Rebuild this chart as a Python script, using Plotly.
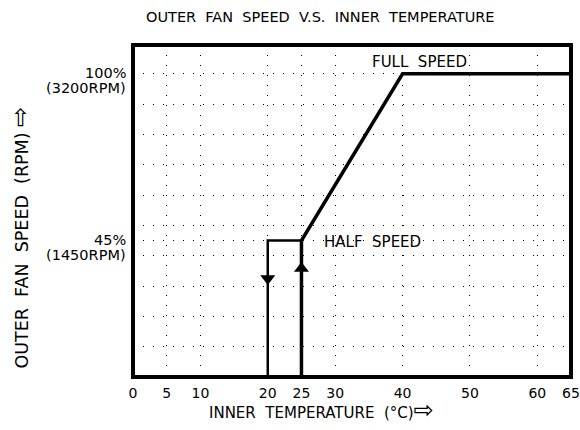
import plotly.graph_objects as go

# fan curve (rising temperature) and the hysteresis return path
temp_rise = [25, 25, 40, 65]
speed_rise = [0, 45, 100, 100]
temp_fall = [25, 20, 20]
speed_fall = [45, 45, 0]

# direction arrows on the vertical legs
arrow_temp = [25, 20]
arrow_speed = [35.8, 32.5]
arrow_symbol = ["triangle-up", "triangle-down"]

x_ticks = [0, 5, 10, 20, 25, 30, 40, 50, 60, 65]
y_grid = [10, 20, 30, 40, 45, 50, 60, 70, 80, 90, 100]

speed_levels = [100, 45]
speed_pct = ["100%", "45%"]
speed_rpm = ["(3200RPM)", "(1450RPM)"]

FONT = "DejaVu Sans"
NB = "\u00a0"
ARROW = '<span style="font-size:24px">⇨</span>'

fig = go.Figure()

fig.add_trace(go.Scatter(
    x=temp_fall, y=speed_fall, mode="lines",
    line=dict(color="black", width=2.5), hoverinfo="skip"
))
fig.add_trace(go.Scatter(
    x=temp_rise, y=speed_rise, mode="lines",
    line=dict(color="black", width=3.5), hoverinfo="skip"
))
fig.add_trace(go.Scatter(
    x=arrow_temp, y=arrow_speed, mode="markers",
    marker=dict(symbol=arrow_symbol, size=13, color="black", line=dict(width=0)),
    hoverinfo="skip"
))

annotations = [
    dict(text=f"FULL{NB}{NB}SPEED", x=42.5, y=103.8, xref="x", yref="y",
         showarrow=False, font=dict(size=15)),
    dict(text=f"HALF{NB}{NB}SPEED", x=28.0, y=44.6, xref="x", yref="y",
         xanchor="left", showarrow=False, font=dict(size=15)),
    dict(text=f"OUTER{NB}{NB}FAN{NB}{NB}SPEED{NB}{NB}V.S.{NB}{NB}INNER{NB}{NB}TEMPERATURE",
         x=0.428, y=1.0, xref="paper", yref="paper", yanchor="middle", yshift=28,
         showarrow=False, font=dict(size=14.5)),
    dict(text=f"INNER{NB}{NB}TEMPERATURE{NB}{NB}(°C){ARROW}", x=0.43, y=0, xref="paper",
         yref="paper", yanchor="middle", yshift=-33, showarrow=False, font=dict(size=15)),
    dict(text=f"OUTER{NB}{NB}FAN{NB}{NB}SPEED{NB}{NB}(RPM){NB}{ARROW}", x=0, y=0.42,
         xref="paper", yref="paper", xanchor="center", yanchor="middle",
         xshift=-113, textangle=-90, showarrow=False, font=dict(size=17.5)),
]
for lvl, pct, rpm in zip(speed_levels, speed_pct, speed_rpm):
    annotations.append(dict(text=pct, x=0, y=lvl, xref="paper", yref="y",
                            xanchor="right", yanchor="middle", xshift=-5, yshift=1,
                            showarrow=False, font=dict(size=14.5)))
    annotations.append(dict(text=rpm, x=0, y=lvl, xref="paper", yref="y",
                            xanchor="right", yanchor="middle", xshift=-5, yshift=-14.5,
                            showarrow=False, font=dict(size=14.5)))

fig.update_layout(
    width=580, height=430,
    margin=dict(l=133, r=9, t=45, b=53),
    paper_bgcolor="white", plot_bgcolor="white",
    showlegend=False,
    font=dict(family=FONT, color="black"),
    annotations=annotations,
    shapes=[dict(type="rect", xref="paper", yref="paper", x0=0, x1=1, y0=0, y1=1,
                 line=dict(color="black", width=4), layer="above")],
    xaxis=dict(range=[0, 65], tickvals=x_ticks, showline=False, zeroline=False,
               showgrid=True, gridcolor="black", gridwidth=1, griddash="1px,9px",
               ticks="", tickfont=dict(size=14), ticklabelstandoff=6, automargin=False),
    yaxis=dict(range=[0, 109.5], tickvals=y_grid, showticklabels=False, automargin=False,
               showline=False, zeroline=False, showgrid=True, gridcolor="black",
               gridwidth=1, griddash="1px,9px", ticks=""),
)

# drop the default page margin so the figure fills the window exactly
fig.write_html("out.html", config={"displayModeBar": False},
               post_script="document.body.style.margin='0';")
